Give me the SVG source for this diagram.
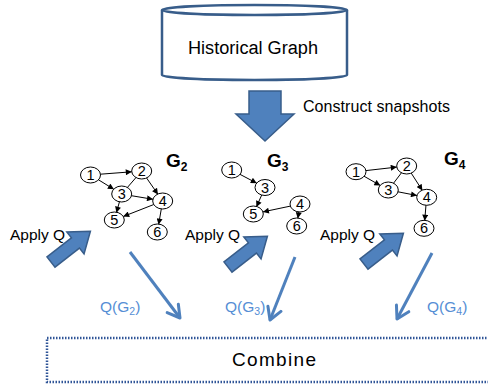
<svg xmlns="http://www.w3.org/2000/svg" width="488" height="384" viewBox="0 0 488 384">
  <defs>
    <style>
      text { font-family: "Liberation Sans", Arial, sans-serif; fill: #000; }
      .node ellipse { fill: #fff; stroke: #000; stroke-width: 1; }
      .node text { font-size: 14.5px; text-anchor: middle; fill: #000; }
      .edge { stroke: #000; stroke-width: 1; fill: none; }
      .block { fill: #4F81BD; stroke: #385D8A; stroke-width: 1.5; }
      .thin { stroke: #4F81BD; stroke-width: 3; fill: none; }
      .glabel { font-size: 19px; font-weight: bold; }
      .qlabel { font-size: 15.5px; fill: #558ED5; }
      .apply { font-size: 15.5px; }
    </style>
    <marker id="head" viewBox="0 0 10 10" refX="10" refY="5" markerWidth="7" markerHeight="6" orient="auto" markerUnits="userSpaceOnUse">
      <path d="M0,0 L10,5 L0,10 Z" fill="#000"/>
    </marker>
    <marker id="vhead" viewBox="-14 -9 16 18" refX="0" refY="0" markerWidth="16" markerHeight="18" orient="auto" markerUnits="userSpaceOnUse">
      <path d="M-12,-7 L0,0 L-12,7" fill="none" stroke="#4F81BD" stroke-width="3" stroke-linejoin="round" stroke-linecap="round"/>
    </marker>
    <!-- thick arrow shape pointing along +x, tail at origin -->
    <path id="blockArrow" d="M0,-6.5 L31,-6.5 L31,-14 L50,0 L31,14 L31,6.5 L0,6.5 Z"/>
  </defs>

  <!-- source store -->
  <g id="historical-graph">
    <path d="M162,10 L162,75 A92.5,5 0 0 0 347,75 L347,10" fill="#fff" stroke="#385D8A" stroke-width="2.5"/>
    <ellipse cx="254.5" cy="10" rx="92.5" ry="5" fill="#fff" stroke="#385D8A" stroke-width="2.5"/>
    <text x="188" y="54" font-size="18" textLength="130" lengthAdjust="spacingAndGlyphs">Historical Graph</text>
  </g>

  <g id="construct-step">
    <path class="block" d="M249,91 L281,91 L281,114 L294,114 L265,141 L236,114 L249,114 Z"/>
    <text x="303" y="112" font-size="16" textLength="147">Construct snapshots</text>
  </g>

  <!-- snapshot G2 -->
  <g id="snapshot-g2">
    <g class="edges">
      <line class="edge" x1="100.4" y1="174.2" x2="131.8" y2="171.8" marker-end="url(#head)"/>
      <line class="edge" x1="98.3" y1="179.7" x2="113.9" y2="189.3" marker-end="url(#head)"/>
      <line class="edge" x1="136.2" y1="177.3" x2="127.2" y2="187.7"/>
      <line class="edge" x1="146.3" y1="177.6" x2="158" y2="194.4" marker-end="url(#head)"/>
      <line class="edge" x1="131.4" y1="195.7" x2="153" y2="199.3" marker-end="url(#head)"/>
      <line class="edge" x1="119.6" y1="201.3" x2="116.4" y2="212.7" marker-end="url(#head)"/>
      <line class="edge" x1="153.8" y1="204.5" x2="123.2" y2="216.5" marker-end="url(#head)"/>
      <line class="edge" x1="161.4" y1="208.4" x2="158.6" y2="224.6" marker-end="url(#head)"/>
    </g>
    <g class="node" id="g2-n1"><ellipse cx="90.5" cy="175" rx="10" ry="8"/><text x="90.5" y="180">1</text></g>
    <g class="node" id="g2-n2"><ellipse cx="141.7" cy="171" rx="10" ry="8"/><text x="141.7" y="176">2</text></g>
    <g class="node" id="g2-n3"><ellipse cx="121.7" cy="194" rx="10" ry="8"/><text x="121.7" y="199">3</text></g>
    <g class="node" id="g2-n4"><ellipse cx="162.7" cy="201" rx="10" ry="8"/><text x="162.7" y="206">4</text></g>
    <g class="node" id="g2-n5"><ellipse cx="114.3" cy="220" rx="10" ry="8"/><text x="114.3" y="225">5</text></g>
    <g class="node" id="g2-n6"><ellipse cx="157.3" cy="232" rx="10" ry="8"/><text x="157.3" y="237">6</text></g>
    <text class="glabel" x="166" y="167">G<tspan font-size="12" dy="4">2</tspan></text>
  </g>

  <!-- snapshot G3 -->
  <g id="snapshot-g3">
    <g class="edges">
      <line class="edge" x1="239.9" y1="174.3" x2="256.8" y2="183.2" marker-end="url(#head)"/>
      <line class="edge" x1="261.9" y1="194.6" x2="256.4" y2="206.9" marker-end="url(#head)"/>
      <line class="edge" x1="290.4" y1="206.1" x2="262.9" y2="211.9" marker-end="url(#head)"/>
      <line class="edge" x1="298.9" y1="211.5" x2="297.8" y2="218.5" marker-end="url(#head)"/>
    </g>
    <g class="node" id="g3-n1"><ellipse cx="231.7" cy="170" rx="10" ry="8"/><text x="231.7" y="175">1</text></g>
    <g class="node" id="g3-n3"><ellipse cx="265" cy="187.5" rx="10" ry="8"/><text x="265" y="192.5">3</text></g>
    <g class="node" id="g3-n5"><ellipse cx="253.3" cy="214" rx="10" ry="8"/><text x="253.3" y="219">5</text></g>
    <g class="node" id="g3-n4"><ellipse cx="300" cy="204" rx="10" ry="8"/><text x="300" y="209">4</text></g>
    <g class="node" id="g3-n6"><ellipse cx="296.7" cy="226" rx="10" ry="8"/><text x="296.7" y="231">6</text></g>
    <text class="glabel" x="267" y="167">G<tspan font-size="12" dy="4">3</tspan></text>
  </g>

  <!-- snapshot G4 -->
  <g id="snapshot-g4">
    <g class="edges">
      <line class="edge" x1="365.9" y1="170.6" x2="396.8" y2="167.1" marker-end="url(#head)"/>
      <line class="edge" x1="364" y1="176.2" x2="380.3" y2="185.5" marker-end="url(#head)"/>
      <line class="edge" x1="401.7" y1="172.5" x2="393.3" y2="183.5"/>
      <line class="edge" x1="411" y1="172.8" x2="422.4" y2="190.5" marker-end="url(#head)"/>
      <line class="edge" x1="398" y1="191.8" x2="417" y2="195.5" marker-end="url(#head)"/>
      <line class="edge" x1="426" y1="204.8" x2="424.7" y2="220.8" marker-end="url(#head)"/>
    </g>
    <g class="node" id="g4-n1"><ellipse cx="356" cy="171.7" rx="10" ry="8"/><text x="356" y="176.7">1</text></g>
    <g class="node" id="g4-n2"><ellipse cx="406.7" cy="166" rx="10" ry="8"/><text x="406.7" y="171">2</text></g>
    <g class="node" id="g4-n3"><ellipse cx="388.3" cy="190" rx="10" ry="8"/><text x="388.3" y="195">3</text></g>
    <g class="node" id="g4-n4"><ellipse cx="426.7" cy="197.3" rx="10" ry="8"/><text x="426.7" y="202.3">4</text></g>
    <g class="node" id="g4-n6"><ellipse cx="424" cy="228.3" rx="10" ry="8"/><text x="424" y="233.3">6</text></g>
    <text class="glabel" x="444" y="165">G<tspan font-size="12" dy="4">4</tspan></text>
  </g>

  <!-- query application arrows -->
  <g id="apply-q">
    <text class="apply" x="10" y="240">Apply Q</text>
    <text class="apply" x="185" y="240">Apply Q</text>
    <text class="apply" x="320" y="240">Apply Q</text>
    <use href="#blockArrow" class="block" transform="translate(51,262) rotate(-38)"/>
    <use href="#blockArrow" class="block" transform="translate(228,267) rotate(-38)"/>
    <use href="#blockArrow" class="block" transform="translate(364,264) rotate(-38)"/>
  </g>

  <!-- result connectors -->
  <g id="connectors">
    <line class="thin" x1="130" y1="252" x2="180" y2="318" marker-end="url(#vhead)"/>
    <line class="thin" x1="295" y1="257" x2="270" y2="320" marker-end="url(#vhead)"/>
    <line class="thin" x1="432" y1="253" x2="397" y2="319" marker-end="url(#vhead)"/>
    <text class="qlabel" x="100" y="312">Q(G<tspan font-size="10.5" dy="3">2</tspan><tspan dy="-3">)</tspan></text>
    <text class="qlabel" x="225" y="312">Q(G<tspan font-size="10.5" dy="3">3</tspan><tspan dy="-3">)</tspan></text>
    <text class="qlabel" x="427" y="312">Q(G<tspan font-size="10.5" dy="3">4</tspan><tspan dy="-3">)</tspan></text>
  </g>

  <g id="combine">
    <rect x="47" y="338" width="460" height="44" fill="#fff" stroke="#2F5597" stroke-width="2.5" stroke-dasharray="1.5 1.5"/>
    <text x="232" y="366" font-size="19" textLength="84">Combine</text>
  </g>
</svg>
